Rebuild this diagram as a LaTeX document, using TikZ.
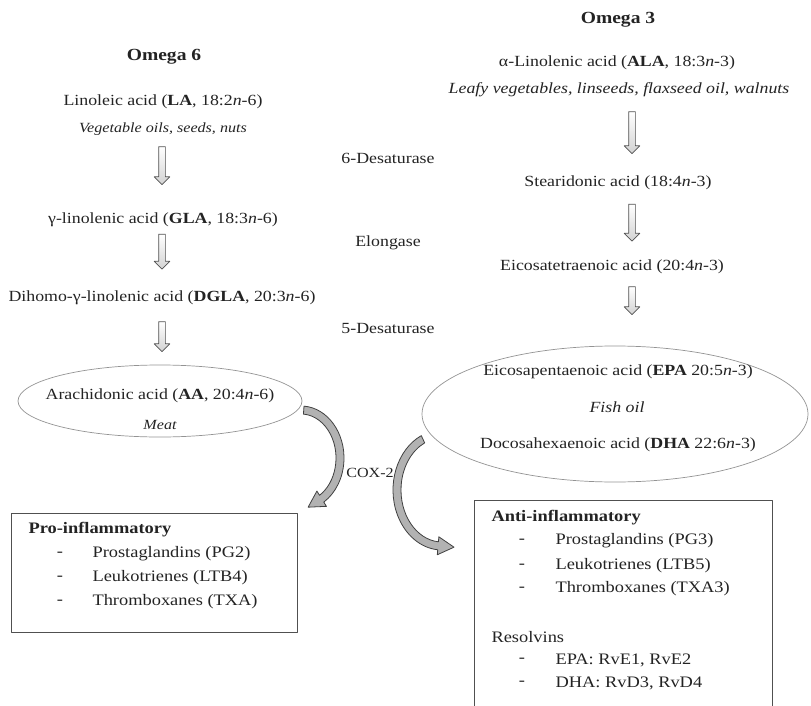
\documentclass[tikz,border=0pt]{standalone}
\usepackage{fontspec}
\setmainfont{Liberation Serif}[FakeStretch=1.15]
\usetikzlibrary{shapes.arrows,shapes.geometric,calc}
\definecolor{ink}{RGB}{35,35,35}
\definecolor{rim}{RGB}{80,80,80}
\definecolor{band}{RGB}{178,178,178}
\def\rxsix{39}
\def\rysix{48}
\def\rxthree{45}
\def\rythree{56}
\begin{document}
\begin{tikzpicture}[x=1pt, y=-1pt, line cap=round, line join=round,
  font=\fontsize{15.5}{18}\selectfont, text=ink,
  src/.style={font=\fontsize{15.5}{18}\selectfont\itshape},
  smallsrc/.style={font=\fontsize{14}{16}\selectfont\itshape},
  head/.style={font=\fontsize{17}{20}\selectfont\bfseries},
  boxhead/.style={font=\fontsize{16}{19}\selectfont\bfseries, anchor=west},
  item/.style={font=\fontsize{16}{19}\selectfont, anchor=west},
  bullet/.style={font=\fontsize{16}{19}\selectfont},
  downarrow/.style={single arrow, draw=rim, top color=white, bottom color=gray!35,
    rotate=-90, inner sep=0pt, line width=0.7pt,
    minimum width=0pt, single arrow head extend=4.5pt, single arrow head indent=0pt},
  pool/.style={ellipse, draw=gray!85, line width=0.7pt},
  box/.style={draw=rim, line width=0.8pt, anchor=north west},
  bandarrow/.style={draw=black!75, fill=band, line width=0.8pt}]

  \useasboundingbox (0,0) rectangle (811,706);

  % omega 6 side
  \node[head] (om6) at (164,57) {Omega 6};
  \node (la) at (163,102) {Linoleic acid (\textbf{LA}, 18:2\textit{n}-6)};
  \node[smallsrc] (lasrc) at (163,129) {Vegetable oils, seeds, nuts};
  \node[downarrow, minimum height=38pt] (a61) at (162,164) {\rule{0pt}{6pt}};
  \node (gla) at (163,220) {γ-linolenic acid (\textbf{GLA}, 18:3\textit{n}-6)};
  \node[downarrow, minimum height=35pt] (a62) at (162,250) {\rule{0pt}{6pt}};
  \node (dgla) at (162,298) {Dihomo-γ-linolenic acid (\textbf{DGLA}, 20:3\textit{n}-6)};
  \node[downarrow, minimum height=30pt] (a63) at (162,335) {\rule{0pt}{6pt}};
  \node[pool, minimum width=284pt, minimum height=72pt] (aapool) at (160,401) {};
  \node (aa) at (160,396) {Arachidonic acid (\textbf{AA}, 20:4\textit{n}-6)};
  \node[smallsrc] (meat) at (160,425) {Meat};

  % enzymes
  \node (d6) at (388,158) {6-Desaturase};
  \node (elo) at (388,243) {Elongase};
  \node (d5) at (388,328) {5-Desaturase};
  \node[font=\fontsize{14}{16}\selectfont] (cox) at (370,473) {COX-2};

  % omega 3 side
  \node[head] (om3) at (618,20) {Omega 3};
  \node (ala) at (617,63) {α-Linolenic acid (\textbf{ALA}, 18:3\textit{n}-3)};
  \node[src] (alasrc) at (619,90) {Leafy vegetables, linseeds, flaxseed oil, walnuts};
  \node[downarrow, minimum height=42pt] (a31) at (632,131) {\rule{0pt}{6pt}};
  \node (sda) at (618,183) {Stearidonic acid (18:4\textit{n}-3)};
  \node[downarrow, minimum height=37pt] (a32) at (632,221) {\rule{0pt}{6pt}};
  \node (eta) at (612,267) {Eicosatetraenoic acid (20:4\textit{n}-3)};
  \node[downarrow, minimum height=28pt] (a33) at (632,299) {\rule{0pt}{6pt}};
  \node[pool, minimum width=386pt, minimum height=136pt] (fishpool) at (615,414) {};
  \node (epa) at (618,372) {Eicosapentaenoic acid (\textbf{EPA} 20:5\textit{n}-3)};
  \node[src] (fish) at (617,407) {Fish oil};
  \node (dha) at (618,445) {Docosahexaenoic acid (\textbf{DHA} 22:6\textit{n}-3)};

  % cox-2 arrows
  \coordinate (c6) at (301,458);
  \coordinate (c3) at (442,490);
  \path[bandarrow]
    ($(c6)+(-86:{\rxsix+4} and {\rysix+4})$)
    arc[start angle=-86, end angle=58, x radius=\rxsix+4, y radius=\rysix+4] --
    ($(c6)+(58:{\rxsix+9} and {\rysix+9})$) --
    ($(c6)+(58:{\rxsix} and {\rysix})+(148:16)$) --
    ($(c6)+(58:{\rxsix-9} and {\rysix-9})$) --
    ($(c6)+(58:{\rxsix-4} and {\rysix-4})$)
    arc[start angle=58, end angle=-86, x radius=\rxsix-4, y radius=\rysix-4] -- cycle;
  \path[bandarrow]
    ($(c3)+(245:{\rxthree+4} and {\rythree+4})$)
    arc[start angle=245, end angle=95, x radius=\rxthree+4, y radius=\rythree+4] --
    ($(c3)+(95:{\rxthree+9} and {\rythree+9})$) --
    ($(c3)+(95:{\rxthree} and {\rythree})+(5:16)$) --
    ($(c3)+(95:{\rxthree-9} and {\rythree-9})$) --
    ($(c3)+(95:{\rxthree-4} and {\rythree-4})$)
    arc[start angle=95, end angle=245, x radius=\rxthree-4, y radius=\rythree-4] -- cycle;

  % pro-inflammatory
  \node[box, minimum width=286pt, minimum height=119pt] (probox) at (11,513) {};
  \node[boxhead] (pro) at (25,530) {Pro-inflammatory};
  \node[bullet] (pd1) at (60,554) {-};
  \node[item] (pg2) at (89,554) {Prostaglandins (PG2)};
  \node[bullet] (pd2) at (60,578) {-};
  \node[item] (ltb4) at (89,578) {Leukotrienes (LTB4)};
  \node[bullet] (pd3) at (60,602) {-};
  \node[item] (txa) at (89,602) {Thromboxanes (TXA)};

  % anti-inflammatory
  \node[box, minimum width=298pt, minimum height=230pt] (antibox) at (474,500) {};
  \node[boxhead] (anti) at (488,518) {Anti-inflammatory};
  \node[bullet] (ad1) at (522,541) {-};
  \node[item] (pg3) at (552,541) {Prostaglandins (PG3)};
  \node[bullet] (ad2) at (522,566) {-};
  \node[item] (ltb5) at (552,566) {Leukotrienes (LTB5)};
  \node[bullet] (ad3) at (522,589) {-};
  \node[item] (txa3) at (552,589) {Thromboxanes (TXA3)};
  \node[item] (rv) at (488,637) {Resolvins};
  \node[bullet] (ad4) at (522,660) {-};
  \node[item] (rve) at (552,660) {EPA: RvE1, RvE2};
  \node[bullet] (ad5) at (522,683) {-};
  \node[item] (rvd) at (552,683) {DHA: RvD3, RvD4};

\end{tikzpicture}
\end{document}
